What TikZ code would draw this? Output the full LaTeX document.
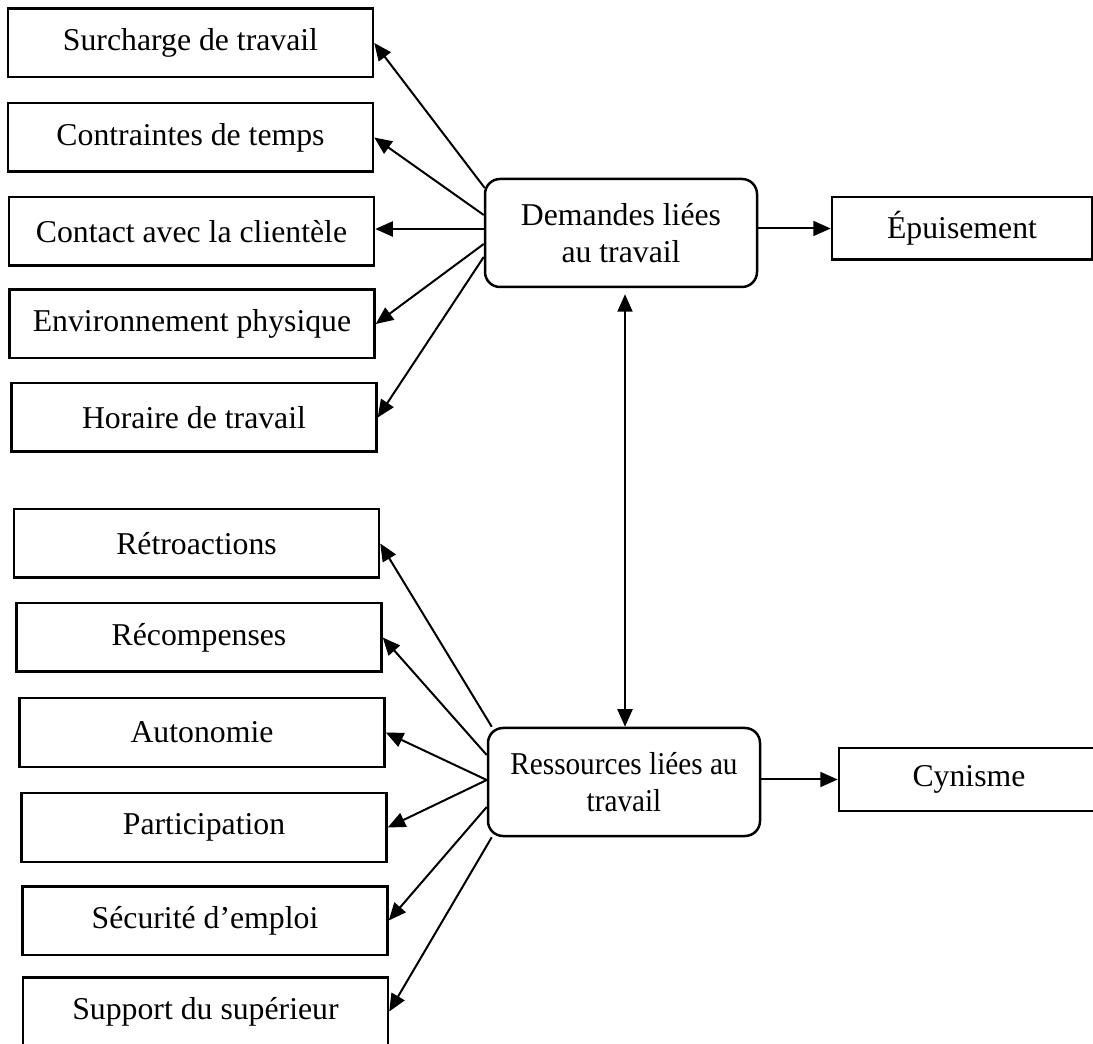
\documentclass[tikz,border=0pt]{standalone}
\usepackage{fontspec}
\setmainfont{Liberation Serif}
\usepackage{tikz}
\usetikzlibrary{arrows.meta, positioning, calc}
\tikzset{
  factorbox/.style={rectangle, draw=black, minimum width=146pt,
    minimum height=27.4pt, inner sep=0pt, font=\fontsize{12.7}{15}\selectfont,
    line width=1pt},
  mainbox/.style={rectangle, draw=black, minimum width=108.8pt,
    minimum height=43.2pt, inner sep=0pt, align=center,
    font=\fontsize{12.7}{15}\selectfont, rounded corners=6pt, line width=1pt},
  outbox/.style={rectangle, draw=black, minimum width=104pt,
    minimum height=25pt, inner sep=0pt, font=\fontsize{12.7}{15}\selectfont,
    line width=1pt},
  arrow/.style={-{Triangle[length=7pt,width=6pt]}, line width=0.8pt},
  dblarrow/.style={{Triangle[length=7pt,width=6pt]}-{Triangle[length=7pt,width=6pt]},
    line width=0.8pt}
}

\begin{document}
\begin{tikzpicture}[x=0.4pt, y=-0.4pt]
  \useasboundingbox (0,0) rectangle (1093,1044);

  % demandes
  \node[factorbox] (surch) at (190.5,43) {Surcharge de travail};
  \node[factorbox] (contr) at (190.5,137.5) {Contraintes de temps};
  \node[factorbox] (contact) at (191.5,231.5) {Contact avec la clientèle};
  \node[factorbox] (envir) at (192,324) {Environnement physique};
  \node[factorbox] (horaire) at (194,417.5) {Horaire de travail};
  \node[mainbox] (dem) at (621,233) {Demandes liées\\au travail};
  \node[outbox] (epuis) at (962,228.5) {Épuisement};

  % ressources
  \node[factorbox] (retro) at (196.5,543.5) {Rétroactions};
  \node[factorbox] (recomp) at (199,637.5) {Récompenses};
  \node[factorbox] (auto) at (202,732.5) {Autonomie};
  \node[factorbox] (partic) at (204,827.5) {Participation};
  \node[factorbox] (secur) at (205,920.5) {Sécurité d’emploi};
  \node[factorbox] (support) at (205.5,1011.5) {Support du supérieur};
  \node[mainbox, font=\fontsize{12.7}{15}\selectfont\addfontfeatures{FakeStretch=0.92}]
    (res) at (624,782) {Ressources liées au\\travail};
  \node[outbox] (cyn) at (969,779.5) {Cynisme};

  \draw[arrow] ($(dem.west)+(1,-45)$) -- (surch.east);
  \draw[arrow] ($(dem.west)+(0,-18)$) -- (contr.east);
  \draw[arrow] ($(dem.west)+(0,-4)$) -- (contact.east |- {$(dem.west)+(0,-4)$});
  \draw[arrow] ($(dem.west)+(0,11)$) -- (envir.east);
  \draw[arrow] ($(dem.west)+(0,24)$) -- (horaire.east);
  \draw[arrow] (dem.east |- epuis.west) -- (epuis.west);

  \draw[arrow] ($(res.north west)+(5,0)$) -- (retro.east);
  \draw[arrow] ($(res.west)+(0,-27)$) -- (recomp.east);
  \draw[arrow] ($(res.west)+(0,-2)$) -- (auto.east);
  \draw[arrow] ($(res.west)+(0,-2)$) -- (partic.east);
  \draw[arrow] ($(res.west)+(0,25)$) -- (secur.east);
  \draw[arrow] ($(res.south west)+(5,0)$) -- (support.east);
  \draw[arrow] (res.east |- cyn.west) -- (cyn.west);

  \draw[dblarrow] ($(dem.south)+(4,6)$) -- ($(res.north)+(1,0)$);
\end{tikzpicture}
\end{document}
